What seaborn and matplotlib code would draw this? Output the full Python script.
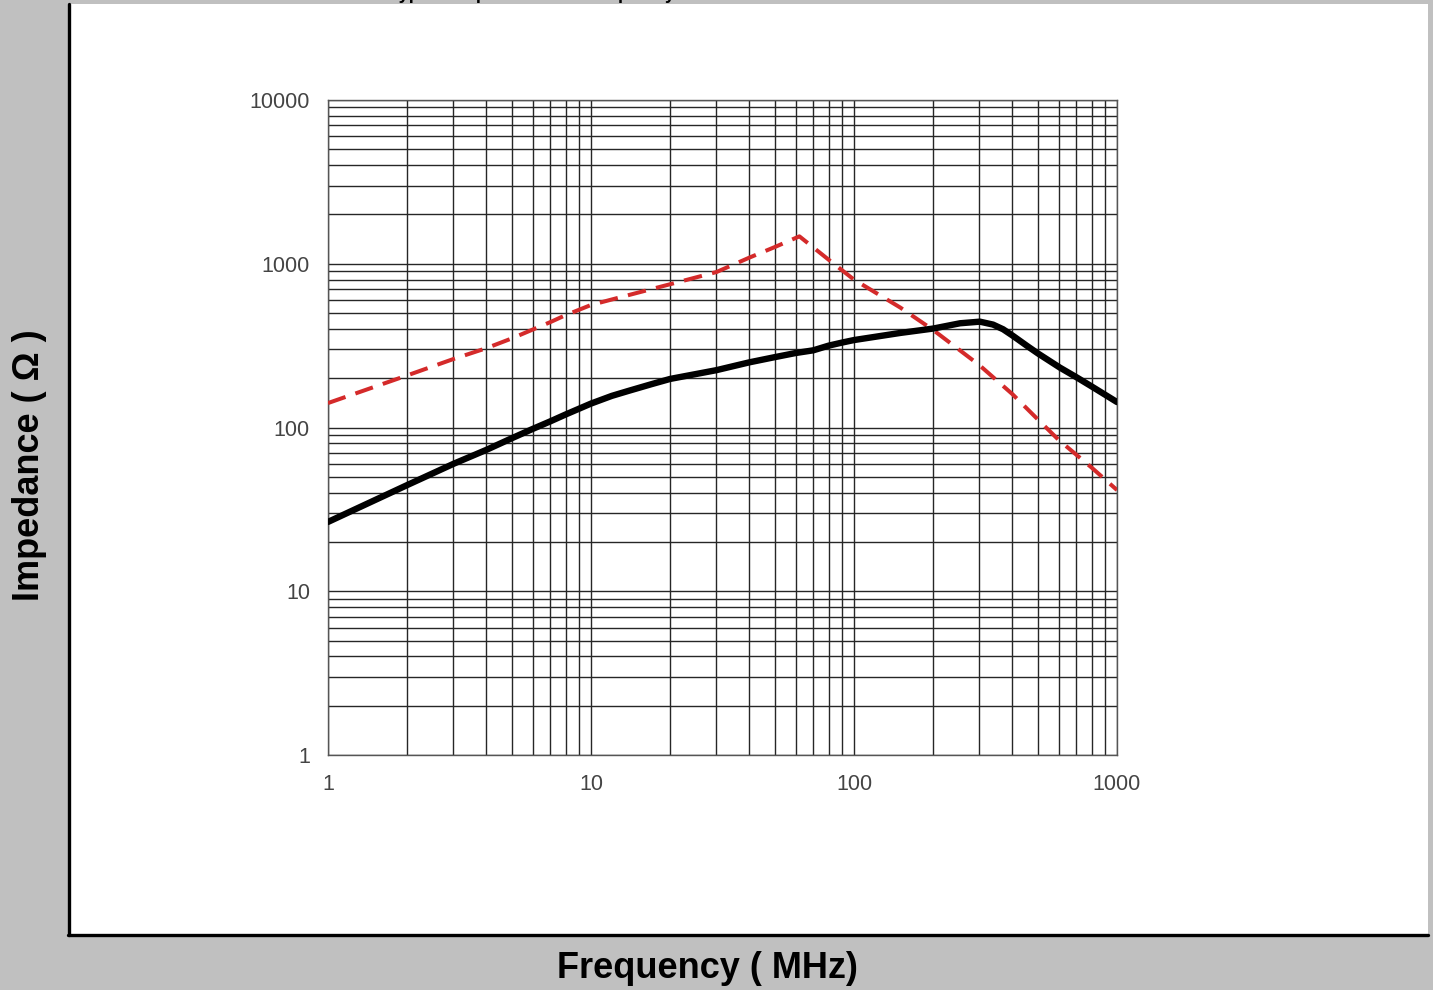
import pandas as pd
import matplotlib
matplotlib.use("Agg")
import matplotlib.pyplot as plt
import seaborn as sns
from matplotlib.patches import Rectangle
from matplotlib.lines import Line2D
from matplotlib.ticker import LogLocator, NullFormatter

# solid black curve (MHz, ohm)
freq_solid = [1, 2, 3, 4, 5, 6, 7, 8, 10, 12, 14, 17, 20, 30, 40, 50, 60, 70, 80, 90, 100,
              150, 200, 253, 301, 338, 369, 403, 455, 501, 607, 704, 811, 1000]
imp_solid = [26.5, 44.5, 60, 73, 86, 98, 109, 120, 140, 156, 168, 184, 198, 224, 250, 269, 285, 296, 316, 330, 342,
             378, 402, 433, 443, 425, 398, 362, 315, 283, 232, 202, 176, 143]

# red dashed curve
freq_dash = [1, 2, 3, 4, 5, 7, 8, 10, 12, 20, 30, 40, 50, 62, 80, 100, 150, 200, 300, 400, 500, 600, 800, 1000]
imp_dash = [141, 208, 262, 305, 350, 440, 485, 560, 605, 750, 890, 1090, 1265, 1470, 1060, 800, 540, 394,
            240, 160, 112, 84, 57, 41.5]

x_ticks = [1, 10, 100, 1000]
y_ticks = [1, 10, 100, 1000, 10000]

sns.set_style("white")
plt.rcParams['font.family'] = ['Liberation Sans', 'DejaVu Sans']

W, H = 1433, 990
fig = plt.figure(figsize=(W / 100, H / 100), dpi=100)
fig.patch.set_facecolor('#c0c0c0')

# white panel with black left / bottom edge (kept behind the axes)
fig.patches.append(Rectangle((68 / W, 55 / H), (1428 - 68) / W, (986 - 55) / H,
                             transform=fig.transFigure, facecolor='white', edgecolor='none', zorder=-10))
fig.lines.append(Line2D([68.5 / W, 68.5 / W], [55 / H, 986 / H], transform=fig.transFigure,
                        color='black', lw=2.4, zorder=-5))
fig.lines.append(Line2D([68 / W, 1428 / W], [55.5 / H, 55.5 / H], transform=fig.transFigure,
                        color='black', lw=2.4, zorder=-5))

ax = fig.add_axes([328 / W, (H - 755) / H, (1117 - 328) / W, (755 - 100) / H])
ax.set_facecolor('white')

df_solid = pd.DataFrame({'f': freq_solid, 'z': imp_solid})
df_dash = pd.DataFrame({'f': freq_dash, 'z': imp_dash})

sns.lineplot(data=df_solid, x='f', y='z', ax=ax, color='black', linewidth=4.6, zorder=5)
sns.lineplot(data=df_dash, x='f', y='z', ax=ax, color='#d42a2a', linewidth=2.9, zorder=4)
ax.lines[-1].set_dashes((4.6, 2.6))
for ln in ax.lines:
    ln.set_solid_joinstyle('round')
    ln.set_dash_joinstyle('round')

ax.set(xscale='log', yscale='log')
ax.set_xlim(1, 1000)
ax.set_ylim(1, 10000)
ax.set_xticks(x_ticks, labels=[str(t) for t in x_ticks])
ax.set_yticks(y_ticks, labels=[str(t) for t in y_ticks])
ax.xaxis.set_minor_locator(LogLocator(base=10, subs=range(2, 10)))
ax.yaxis.set_minor_locator(LogLocator(base=10, subs=range(2, 10)))
ax.xaxis.set_minor_formatter(NullFormatter())
ax.yaxis.set_minor_formatter(NullFormatter())
ax.grid(True, which='both', color='#262626', linewidth=1.0)
ax.tick_params(which='major', length=6, width=1, color='#777777', labelsize=15.5,
               labelcolor='#444444', direction='out')
ax.tick_params(axis='x', which='major', pad=8)
ax.tick_params(axis='y', which='major', pad=7)
ax.tick_params(which='minor', length=0)
ax.set_xlabel('')
ax.set_ylabel('')
for s in ax.spines.values():
    s.set_color('#555555')
    s.set_linewidth(1)

# title is cut off by the top edge in the reference; only descenders show
fig.text(532 / W, 1 + 1 / H, 'Typical Impedance vs. Frequency', ha='center', va='baseline',
         fontsize=13, fontweight='bold', color='black')
fig.text(30 / W, (H - 465) / H, 'Impedance ( Ω )', rotation=90, ha='center', va='center',
         fontsize=26, fontweight='bold', color='black')
fig.text(707 / W, (H - 968) / H, 'Frequency ( MHz)', ha='center', va='center',
         fontsize=26, fontweight='bold', color='black')

fig.savefig('out.png', dpi=100, facecolor=fig.get_facecolor())
